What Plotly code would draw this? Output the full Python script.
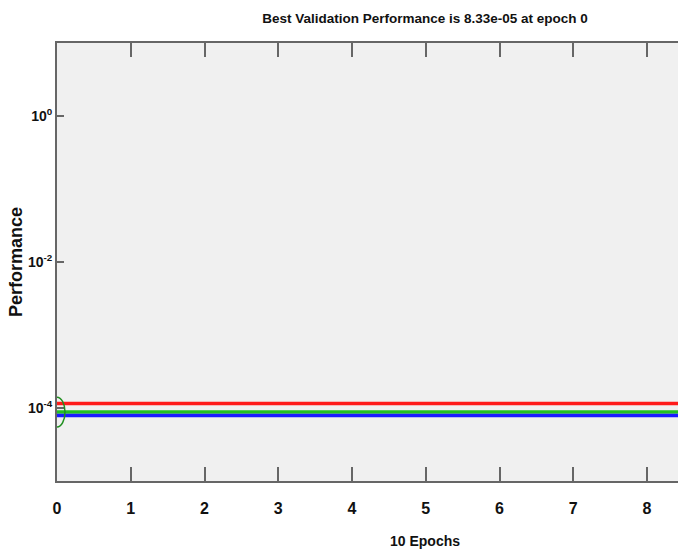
import plotly.graph_objects as go

# Data
epochs = [0, 1, 2, 3, 4, 5, 6, 7, 8, 9, 10]
train_perf = [7.9e-5, 7.9e-5, 7.9e-5, 7.9e-5, 7.9e-5, 7.9e-5, 7.9e-5, 7.9e-5, 7.9e-5, 7.9e-5, 7.9e-5]
val_perf = [8.8e-5, 8.8e-5, 8.8e-5, 8.8e-5, 8.8e-5, 8.8e-5, 8.8e-5, 8.8e-5, 8.8e-5, 8.8e-5, 8.8e-5]
test_perf = [1.15e-4, 1.15e-4, 1.15e-4, 1.15e-4, 1.15e-4, 1.15e-4, 1.15e-4, 1.15e-4, 1.15e-4, 1.15e-4, 1.15e-4]
best_epoch = 0
x_ticks = [0, 1, 2, 3, 4, 5, 6, 7, 8]
x_ticktext = ["<b>%d</b>" % v for v in x_ticks]
y_tickvals = [1e0, 1e-2, 1e-4]
y_ticktext = ["<b>10<sup>0</sup></b>", "<b>10<sup>-2</sup></b>", "<b>10<sup>-4</sup></b>"]
title_text = "Best Validation Performance is 8.33e-05 at epoch 0"
x_label = "10 Epochs"
y_label = "Performance"

FONT = "Liberation Sans, Arial, sans-serif"

FIG_W, FIG_H = 678, 551
L, T = 57, 43
PLOT_H = 438
B = FIG_H - T - PLOT_H
PLOT_W = FIG_W - L

fig = go.Figure()
fig.add_trace(go.Scatter(x=epochs, y=test_perf, mode="lines",
                         line=dict(color="#ff1a1a", width=3.5), name="Test"))
fig.add_trace(go.Scatter(x=epochs, y=val_perf, mode="lines",
                         line=dict(color="#22c022", width=3.5), name="Validation"))
fig.add_trace(go.Scatter(x=epochs, y=train_perf, mode="lines",
                         line=dict(color="#1a1aff", width=3.5), name="Train"))

best_val = val_perf[best_epoch]
fig.add_shape(type="circle", xref="x", yref="y",
              xsizemode="pixel", xanchor=epochs[best_epoch],
              x0=-8, x1=8, y0=best_val / 1.6, y1=best_val * 1.6,
              line=dict(color="#1f8f1f", width=1.5))

fig.update_layout(
    width=FIG_W, height=FIG_H,
    margin=dict(l=L, r=0, t=T, b=B),
    paper_bgcolor="white", plot_bgcolor="#f0f0f0",
    showlegend=False,
    title=dict(text="<b>" + title_text + "</b>", x=(425 - L) / PLOT_W, xref="paper",
               xanchor="center", y=1 - 18 / FIG_H, yanchor="middle",
               font=dict(family=FONT, size=13.5, color="#111111")),
)
fig.add_annotation(text="<b>" + x_label + "</b>", xref="paper", yref="paper",
                   x=(425 - L) / PLOT_W, y=-(541 - (T + PLOT_H)) / PLOT_H,
                   xanchor="center", yanchor="middle",
                   showarrow=False, font=dict(family=FONT, size=14, color="#111111"))
fig.add_annotation(text="<b>" + y_label + "</b>", xref="paper", yref="paper",
                   x=(16 - L) / PLOT_W, y=0.5, xanchor="center", yanchor="middle", textangle=-90,
                   showarrow=False, font=dict(family=FONT, size=18, color="#111111"))

fig.update_xaxes(range=[0, PLOT_W / 73.75], tickvals=x_ticks, ticktext=x_ticktext,
                 ticks="inside", ticklen=14,
                 tickcolor="#666666", tickwidth=1.5,
                 showline=True, linecolor="#666666", linewidth=2, mirror="ticks",
                 showgrid=False, zeroline=False, ticklabelstandoff=12,
                 tickfont=dict(family=FONT, size=16, color="#111111"))
fig.update_yaxes(type="log", range=[-5, 1], tickvals=y_tickvals, ticktext=y_ticktext,
                 ticks="inside", ticklen=7, tickcolor="#666666", tickwidth=1.5,
                 showline=True, linecolor="#666666", linewidth=2,
                 showgrid=False, zeroline=False, ticklabelstandoff=0,
                 tickfont=dict(family=FONT, size=14, color="#111111"))

fig.write_html("out.html", config={"displayModeBar": False},
               post_script="document.body.style.margin='0';document.body.style.overflow='hidden';")
